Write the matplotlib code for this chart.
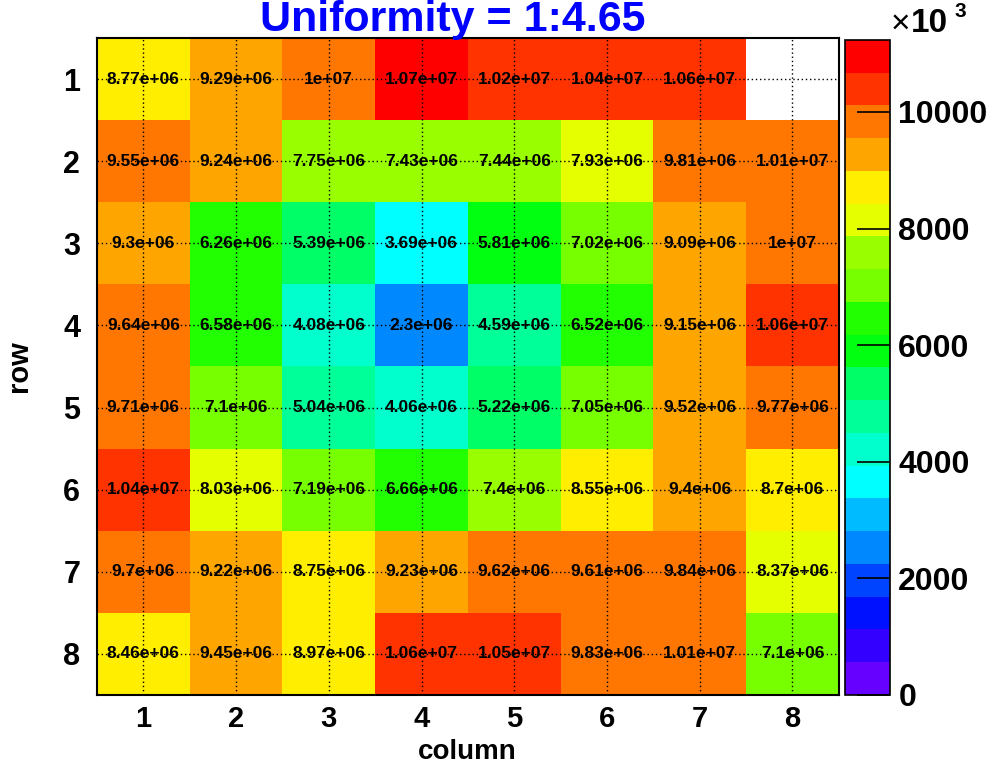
import numpy as np
import matplotlib
matplotlib.use("Agg")
import matplotlib.pyplot as plt
from matplotlib.colors import ListedColormap, BoundaryNorm
from matplotlib.ticker import FuncFormatter

plt.rcParams['font.family'] = ['Liberation Sans', 'DejaVu Sans']
plt.rcParams['font.weight'] = 'bold'

title = "Uniformity = 1:4.65"
rows = [1, 2, 3, 4, 5, 6, 7, 8]
cols = [1, 2, 3, 4, 5, 6, 7, 8]
# counts per cell, row 1 on top; 0 = empty cell
r1 = [8.77e6, 9.29e6, 1.00e7, 1.07e7, 1.02e7, 1.04e7, 1.06e7, 0]
r2 = [9.55e6, 9.24e6, 7.75e6, 7.43e6, 7.44e6, 7.93e6, 9.81e6, 1.01e7]
r3 = [9.30e6, 6.26e6, 5.39e6, 3.69e6, 5.81e6, 7.02e6, 9.09e6, 1.00e7]
r4 = [9.64e6, 6.58e6, 4.08e6, 2.30e6, 4.59e6, 6.52e6, 9.15e6, 1.06e7]
r5 = [9.71e6, 7.10e6, 5.04e6, 4.06e6, 5.22e6, 7.05e6, 9.52e6, 9.77e6]
r6 = [1.04e7, 8.03e6, 7.19e6, 6.66e6, 7.40e6, 8.55e6, 9.40e6, 8.70e6]
r7 = [9.70e6, 9.22e6, 8.75e6, 9.23e6, 9.62e6, 9.61e6, 9.84e6, 8.37e6]
r8 = [8.46e6, 9.45e6, 8.97e6, 1.06e7, 1.05e7, 9.83e6, 1.01e7, 7.10e6]
cbar_ticks = [0, 2e6, 4e6, 6e6, 8e6, 1e7]

# ROOT-ish 20 level palette, bottom to top
palette = ['#6600FF', '#3300FF', '#0011FF', '#0044FF', '#0088FF', '#00BBFF',
           '#00FFFF', '#00FFCC', '#00FF99', '#00FF66', '#00FF11', '#22FF00',
           '#77FF00', '#99FF00', '#E6FF00', '#FFEE00', '#FFA500', '#FF7700',
           '#FF3300', '#FF0000']

z = np.array([r1, r2, r3, r4, r5, r6, r7, r8])
zmax = z.max() * 1.05
levels = np.linspace(0, zmax, len(palette) + 1)
cmap = ListedColormap(palette)
norm = BoundaryNorm(levels, cmap.N)

fig = plt.figure(figsize=(10.08, 7.67), dpi=100)
ax = fig.add_axes([0.0962, 0.0939, 0.736, 0.8566])
cax = fig.add_axes([0.8383, 0.0939, 0.0446, 0.854])

xe = np.arange(0.5, 9.0, 1.0)
ye = np.arange(0.5, 9.0, 1.0)
zm = np.ma.masked_where(z <= 0, z)
mesh = ax.pcolormesh(xe, ye, zm, cmap=cmap, norm=norm, zorder=1)
ax.set_xlim(0.5, 8.5)
ax.set_ylim(8.5, 0.5)

for c in cols:
    ax.axvline(c, color='black', lw=1.0, ls=(0, (1, 2)), zorder=2)
for r in rows:
    ax.axhline(r, color='black', lw=1.0, ls=(0, (1, 2)), zorder=2)

for i, r in enumerate(rows):
    for j, c in enumerate(cols):
        v = z[i, j]
        if v > 0:
            ax.text(c, r, '%.3g' % v, ha='center', va='center', fontsize=12.5,
                    fontweight='bold', color='black', zorder=3)

ax.set_xticks(cols)
ax.set_yticks(rows)
ax.tick_params(axis='y', length=0, labelsize=22, pad=12)
ax.tick_params(axis='x', length=0, labelsize=21, pad=7)
for lab in ax.get_xticklabels() + ax.get_yticklabels():
    lab.set_fontweight('bold')
for s in ax.spines.values():
    s.set_linewidth(1.5)
ax.set_ylabel('row', fontsize=21, fontweight='bold', labelpad=22)
fig.text(0.464, 0.011, 'column', fontsize=20, fontweight='bold',
         ha='center', va='baseline')

cb = fig.colorbar(mesh, cax=cax, ticks=cbar_ticks)
cb.ax.yaxis.set_major_formatter(FuncFormatter(lambda v, p: '%d' % round(v / 1000)))
cb.ax.tick_params(direction='in', length=24, width=1.2, labelsize=23, pad=6)
cb.ax.minorticks_off()
for lab in cb.ax.get_yticklabels():
    lab.set_fontweight('bold')
cb.outline.set_linewidth(1.2)

fig.text(0.884, 0.958, u'\u00d7', fontsize=24, fontweight='normal', ha='left', va='baseline')
fig.text(0.904, 0.958, '10', fontsize=24, fontweight='bold', ha='left', va='baseline')
fig.text(0.947, 0.978, '3', fontsize=15, fontweight='bold', ha='left', va='baseline')

fig.text(0.449, 0.959, title, fontsize=31, fontweight='bold', color='#0000FF',
         ha='center', va='baseline')

fig.savefig('out.png', dpi=100)
